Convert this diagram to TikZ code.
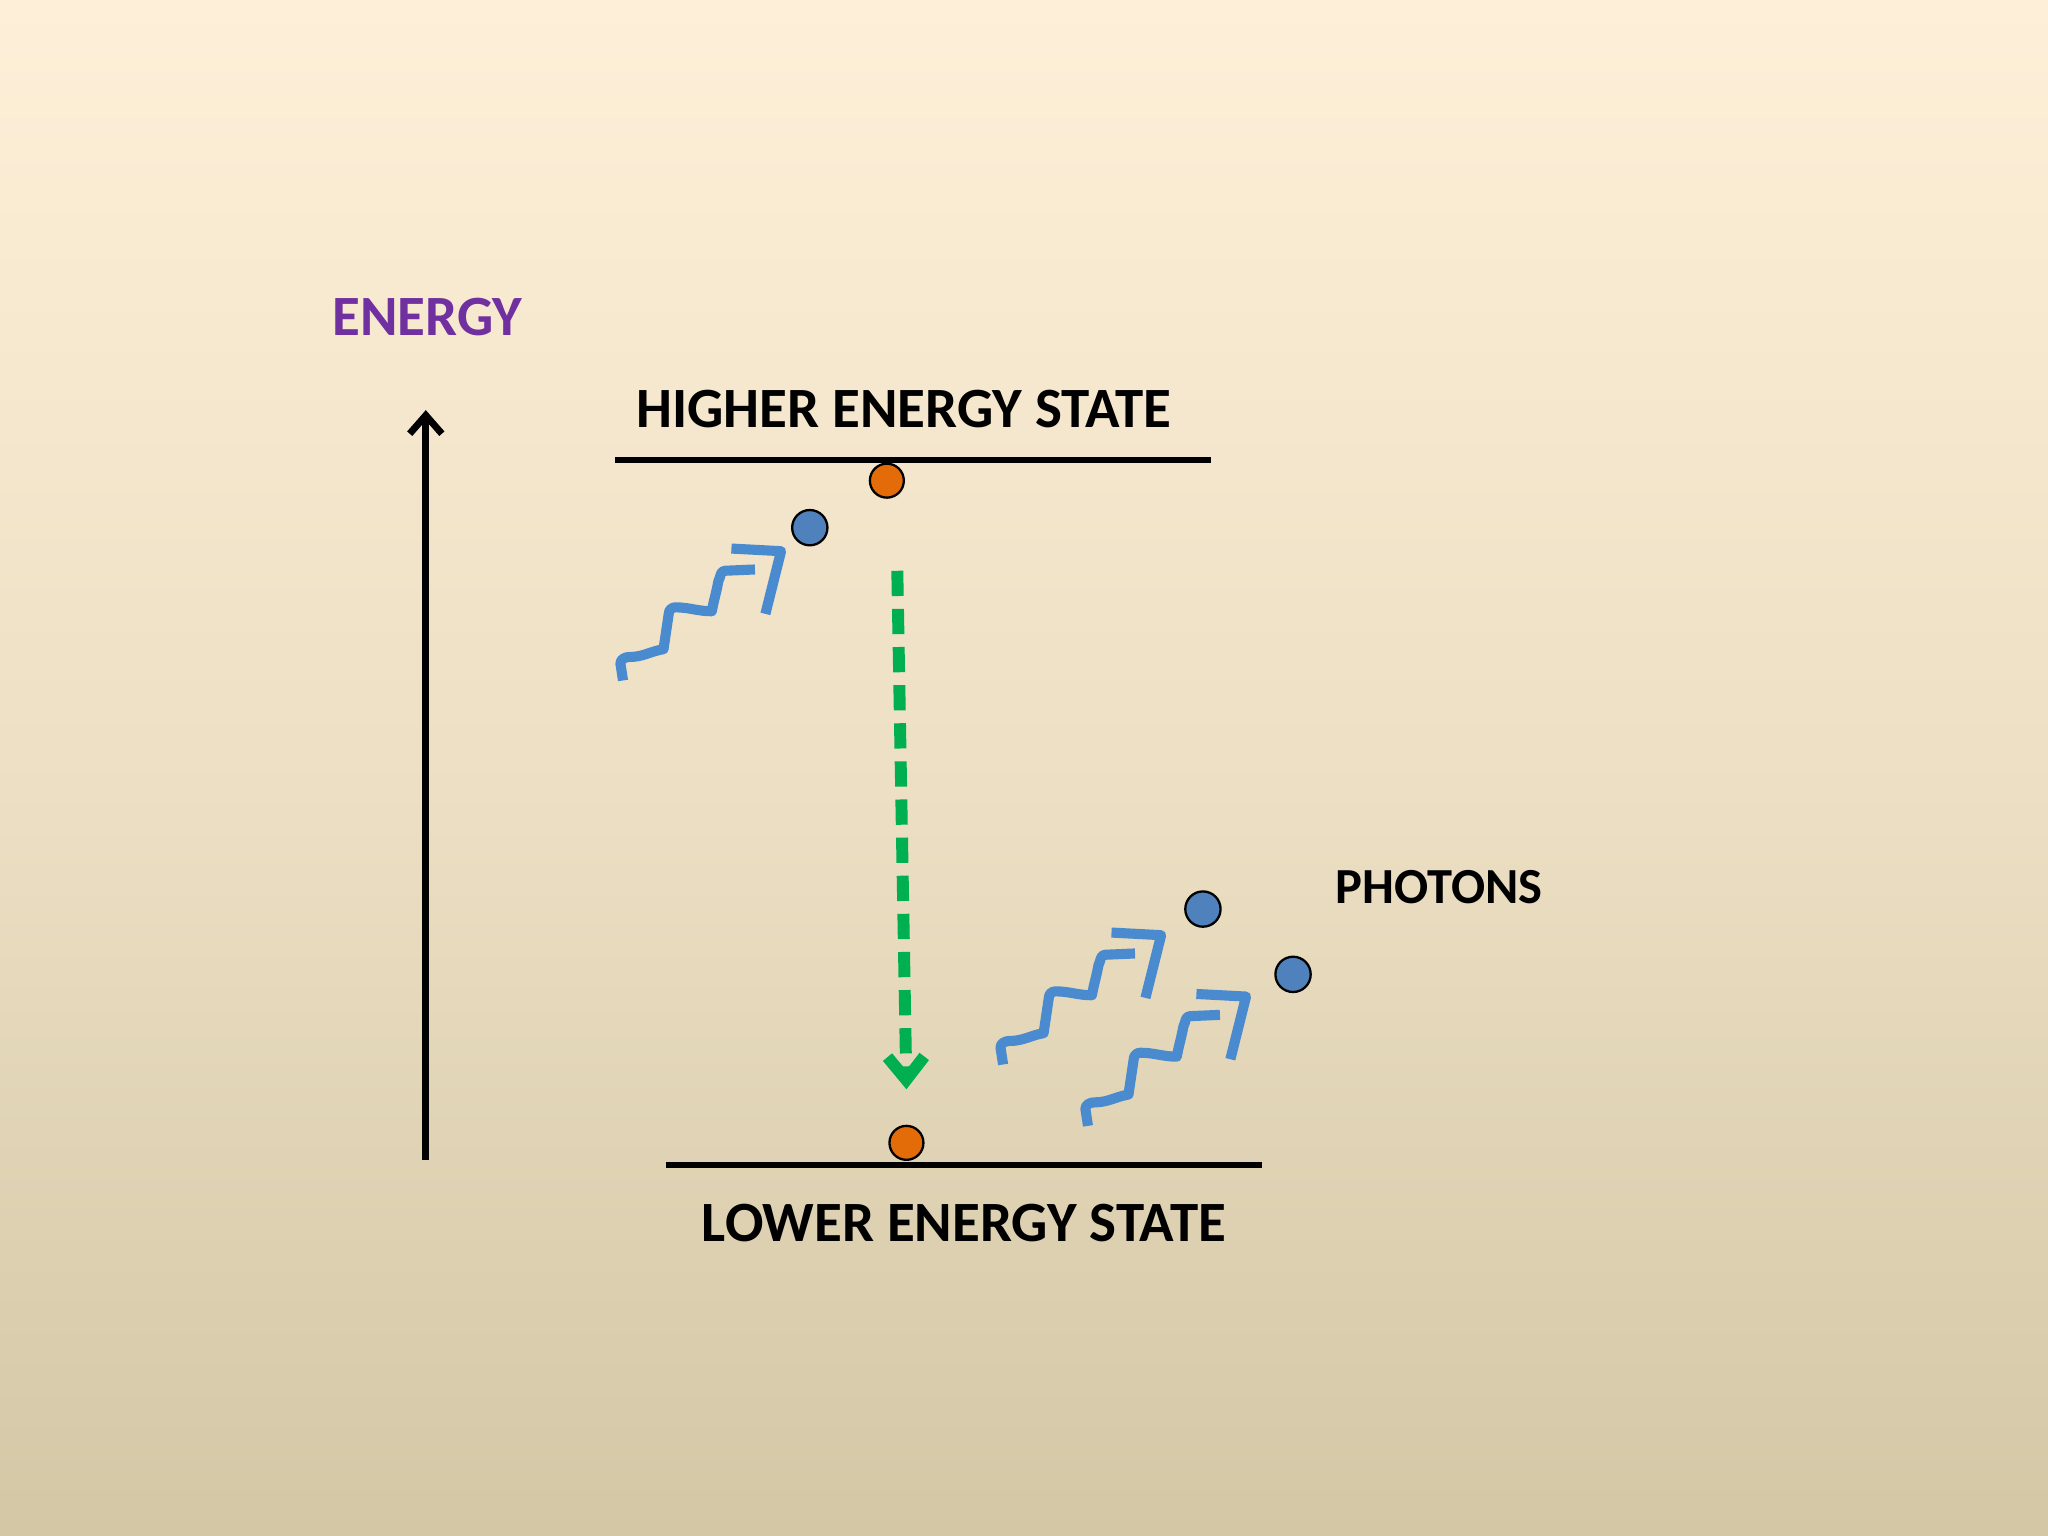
\documentclass[tikz,border=0pt]{standalone}
\usepackage{fontspec}
\setmainfont{Carlito}
\usetikzlibrary{arrows.meta}
\definecolor{bgtop}{HTML}{FEF0D8}
\definecolor{bgbot}{HTML}{D3C7A6}
\definecolor{photon}{HTML}{4A8BD0}
\definecolor{dotblue}{HTML}{4F81BD}
\definecolor{dotorange}{HTML}{E36C09}
\definecolor{energy}{HTML}{7030A0}
\definecolor{greenarrow}{HTML}{00B050}
\tikzset{
  lbl/.style={font=\bfseries\fontsize{12.4pt}{15pt}\selectfont, inner sep=0pt},
  level/.style={line width=1.3pt},
  bluedot/.style={circle, draw=black, line width=0.5pt, fill=dotblue, minimum width=0.24cm, minimum height=0.27cm, inner sep=0pt},
  orangedot/.style={circle, draw=black, line width=0.5pt, fill=dotorange, minimum size=0.26cm, inner sep=0pt},
  wave/.style={draw=photon, line width=2.2pt, line join=round},
  photonpic/.pic={
    \draw[wave] (0,0) -- (-2,-13) to[out=90,in=180] (5,-18) to[out=0,in=190] (31,-24) -- (35,-51) to[out=90,in=180] (40,-56) to[out=0,in=180] (68,-53) to[out=80,in=-100] (73,-76) to[out=60,in=180] (78,-84) -- (101,-85);
    \draw[wave] (83,-101) -- (121,-99) -- (109,-51);
  }
}
\begin{document}
\begin{tikzpicture}[x=0.01cm,y=-0.01cm]
\shade[top color=bgtop, bottom color=bgbot, middle color=bgtop!60!bgbot] (0,0) rectangle (1568,1176);
\useasboundingbox (0,0) rectangle (1568,1176);
\node[lbl, text=energy] (energylbl) at (327,243) {ENERGY};
\coordinate (ebot) at (326,888);
\coordinate (etop) at (326,314);
\draw[line width=1.5pt, -{Straight Barb[length=4pt,width=7pt]}] (ebot) -- (etop);
\node[lbl] (hlbl) at (692,313) {HIGHER ENERGY STATE};
\node[lbl] (llbl) at (738,936) {LOWER ENERGY STATE};
\node[lbl, font=\bfseries\fontsize{11pt}{13pt}\selectfont] (plbl) at (1102,679) {PHOTONS};
\coordinate (h1) at (471,352); \coordinate (h2) at (927,352);
\coordinate (l1) at (510,892); \coordinate (l2) at (966,892);
\draw[level] (h1) -- (h2);
\draw[level] (l1) -- (l2);
\pic at (477,521) {photonpic};
\pic at (768,815) {photonpic};
\pic at (833,862) {photonpic};
\node[bluedot] (b1) at (620,404) {};
\node[bluedot] (b2) at (921,696) {};
\node[bluedot] (b3) at (990,746) {};
\node[orangedot] (o1) at (679,368) {};
\node[orangedot] (o2) at (694,875) {};
\coordinate (gs) at (687,437);
\coordinate (ge) at (694,834);
\draw[greenarrow, line width=2.6pt, dash pattern=on 5.5pt off 2.8pt, -{Straight Barb[length=5pt,width=8pt]}] (gs) -- (ge);
\end{tikzpicture}
\end{document}
